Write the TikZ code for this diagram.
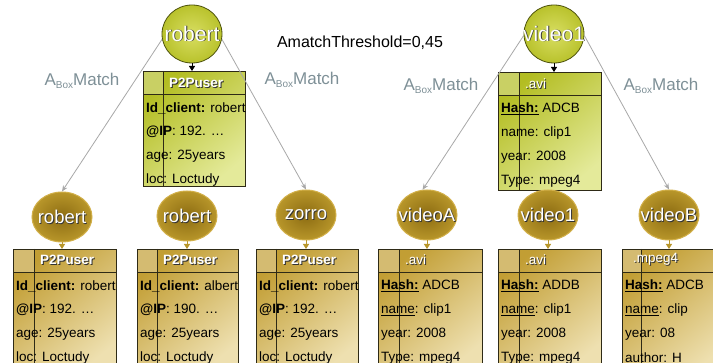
\documentclass[tikz,border=0pt]{standalone}
\usepackage{fontspec}
\setmainfont{Liberation Sans}
\usetikzlibrary{shapes.geometric,arrows.meta}
\definecolor{gcIn}{HTML}{D8DE62}
\definecolor{gcOut}{HTML}{B9C22C}
\definecolor{gcDraw}{HTML}{4D520C}
\definecolor{gBoxDark}{HTML}{B3BD22}
\definecolor{gBoxLight}{HTML}{E4EA9A}
\definecolor{oIn}{HTML}{8C6C12}
\definecolor{oOut}{HTML}{B8962A}
\definecolor{oDraw}{HTML}{D2B04A}
\definecolor{yBoxDark}{HTML}{C29E34}
\definecolor{yBoxLight}{HTML}{EEE0B0}
\definecolor{lineGray}{HTML}{A8A8A8}
\definecolor{labelCol}{HTML}{7E9097}
\definecolor{cellLine}{HTML}{2E2A16}
\newcommand\shd[1]{\makebox[0pt][l]{\kern0.9pt\raisebox{-0.9pt}{\color{black!80}#1}}{\color{white}#1}}
\newcommand\ctext[1]{\makebox[0pt][c]{\shd{#1}}}
\newcommand\rbox[7]{%
  \node[#7, anchor=north west, minimum width=#4pt-#2pt, minimum height=#5pt-#3pt] (#1) at (#2,#3) {};
  \fill[white, opacity=0.3] (#2,#3) rectangle (#6,#3+23);
  \draw[cell] (#2,#3+23) -- (#4,#3+23);
  \draw[cell] (#6,#3) -- (#6,#5);
  \draw[cell] (#1.north west) rectangle (#1.south east);
}
\newcommand\rrows[7]{%
  \node[rowtxt] (#1-1) at (#2+3,#3+37) {#4};
  \node[rowtxt] (#1-2) at (#2+3,#3+61) {#5};
  \node[rowtxt] (#1-3) at (#2+3,#3+85) {#6};
  \node[rowtxt] (#1-4) at (#2+3,#3+109) {#7};
}
\newcommand\Abox{A\raisebox{-0.35ex}{\fontsize{10}{10}\selectfont Box}Match}
\begin{document}
\begin{tikzpicture}[x=1pt,y=-1pt,
  topcirc/.style={ellipse, draw=gcDraw, line width=0.8pt, inner color=gcIn, outer color=gcOut,
    minimum width=60pt, minimum height=58pt, inner sep=0pt, font=\fontsize{21}{21}\selectfont},
  botcirc/.style={ellipse, draw=oDraw, line width=1pt, inner color=oIn, outer color=oOut,
    minimum width=60pt, minimum height=50pt, inner sep=0pt, font=\fontsize{18.5}{18.5}\selectfont},
  greenbox/.style={rectangle, inner sep=0pt, top color=gBoxDark, bottom color=gBoxLight, shading angle=40},
  goldbox/.style={rectangle, inner sep=0pt, top color=yBoxDark, bottom color=yBoxLight, shading angle=40},
  cell/.style={draw=cellLine, line width=0.8pt},
  rowtxt/.style={anchor=west, inner sep=0pt, font=\fontsize{13.5}{13.5}\selectfont},
  hdr/.style={anchor=west, inner sep=0pt, font=\fontsize{13.5}{13.5}\selectfont},
  match/.style={draw=lineGray, line width=0.8pt, -{Stealth[length=6pt,width=5pt]}},
  mlabel/.style={text=labelCol, inner sep=0pt, font=\fontsize{17}{17}\selectfont},
  blackarr/.style={draw=black, line width=0.8pt, -{Triangle[length=5pt,width=6pt]}},
  goldarr/.style={draw=oOut, line width=0.8pt, -{Triangle[length=5pt,width=6pt]}}
]
\path[clip] (0,0) rectangle (713,363);
\fill[white] (0,0) rectangle (713,363);

% boxes
\rbox{tbox1}{143}{71}{245}{186}{163}{greenbox}
\rrows{tbox1}{143}{71}{\textbf{Id\_client:} robert}{\textbf{@IP}: 192. …}{age: 25years}{loc: Loctudy}
\node[hdr] (tbox1-h) at (169,83) {\shd{\textbf{P2Puser}}};

\rbox{tbox2}{498}{72}{601}{190}{519}{greenbox}
\rrows{tbox2}{498}{72}{\underline{\textbf{Hash:}} ADCB}{name: clip1}{year: 2008}{Type: mpeg4}
\node[hdr] (tbox2-h) at (525,84) {\shd{.avi}};

\rbox{bbox1}{13}{249}{116}{372}{34}{goldbox}
\rrows{bbox1}{13}{249}{\textbf{Id\_client:} robert}{\textbf{@IP}: 192. …}{age: 25years}{loc: Loctudy}
\node[hdr] (bbox1-h) at (40,260) {\shd{\textbf{P2Puser}}};

\rbox{bbox2}{137}{249}{238}{372}{157}{goldbox}
\rrows{bbox2}{137}{249}{\textbf{Id\_client:} albert}{\textbf{@IP}: 190. …}{age: 25years}{loc: Loctudy}
\node[hdr] (bbox2-h) at (163,260) {\shd{\textbf{P2Puser}}};

\rbox{bbox3}{256}{249}{358}{372}{276}{goldbox}
\rrows{bbox3}{256}{249}{\textbf{Id\_client:} robert}{\textbf{@IP}: 192. …}{age: 25years}{loc: Loctudy}
\node[hdr] (bbox3-h) at (282,260) {\shd{\textbf{P2Puser}}};

\rbox{bbox4}{378}{249}{482}{372}{399}{goldbox}
\rrows{bbox4}{378}{249}{\underline{\textbf{Hash:}} ADCB}{\underline{name}: clip1}{year: 2008}{Type: mpeg4}
\node[hdr] (bbox4-h) at (405,260) {\shd{.avi}};

\rbox{bbox5}{498}{249}{601}{372}{519}{goldbox}
\rrows{bbox5}{498}{249}{\underline{\textbf{Hash:}} ADDB}{\underline{name}: clip1}{year: 2008}{Type: mpeg4}
\node[hdr] (bbox5-h) at (525,260) {\shd{.avi}};

\rbox{bbox6}{622}{249}{730}{372}{641}{goldbox}
\rrows{bbox6}{622}{249}{\underline{\textbf{Hash:}} ADCB}{\underline{name}: clip}{year: 08}{author: H}
\node[hdr] (bbox6-h) at (633,260) {\shd{.mpeg4}};

% circles
\node[topcirc] (trob) at (192,34) {\ctext{robert}};
\node[topcirc] (tvid) at (554,34) {\ctext{video1}};
\node[botcirc] (brob1) at (62,217) {\ctext{robert}};
\node[botcirc] (brob2) at (187,216) {\ctext{robert}};
\node[botcirc] (bzor) at (306,215) {\ctext{zorro}};
\node[botcirc] (bvidA) at (427,215) {\ctext{videoA}};
\node[botcirc] (bvid1) at (548,215) {\ctext{video1}};
\node[botcirc] (bvidB) at (669,215) {\ctext{videoB}};

% small arrows circle -> box
\draw[blackarr] (trob.south) -- (trob.south |- tbox1.north);
\draw[blackarr] (tvid.south) -- (tvid.south |- tbox2.north);
\draw[goldarr] (brob1.south) -- (brob1.south |- bbox1.north);
\draw[goldarr] (brob2.south) -- (brob2.south |- bbox2.north);
\draw[goldarr] (bzor.south) -- (bzor.south |- bbox3.north);
\draw[goldarr] (bvidA.south) -- (bvidA.south |- bbox4.north);
\draw[goldarr] (bvid1.south) -- (bvid1.south |- bbox5.north);
\draw[goldarr] (bvidB.south) -- (bvidB.south |- bbox6.north);

% match connectors
\draw[match] (trob.190) -- (brob1.north);
\draw[match] (trob.350) -- (bzor.north);
\draw[match] (tvid.183) -- (bvidA.100);
\draw[match] (tvid.357) -- (bvidB.north);

% labels
\node[mlabel] (lab1) at (82,81) {\Abox};
\node[mlabel] (lab2) at (302,80) {\Abox};
\node[mlabel] (lab3) at (441,86) {\Abox};
\node[mlabel] (lab4) at (661,86) {\Abox};
\node[inner sep=0pt, font=\fontsize{16}{16}\selectfont] (thr) at (360,43) {AmatchThreshold=0,45};
\end{tikzpicture}
\end{document}
